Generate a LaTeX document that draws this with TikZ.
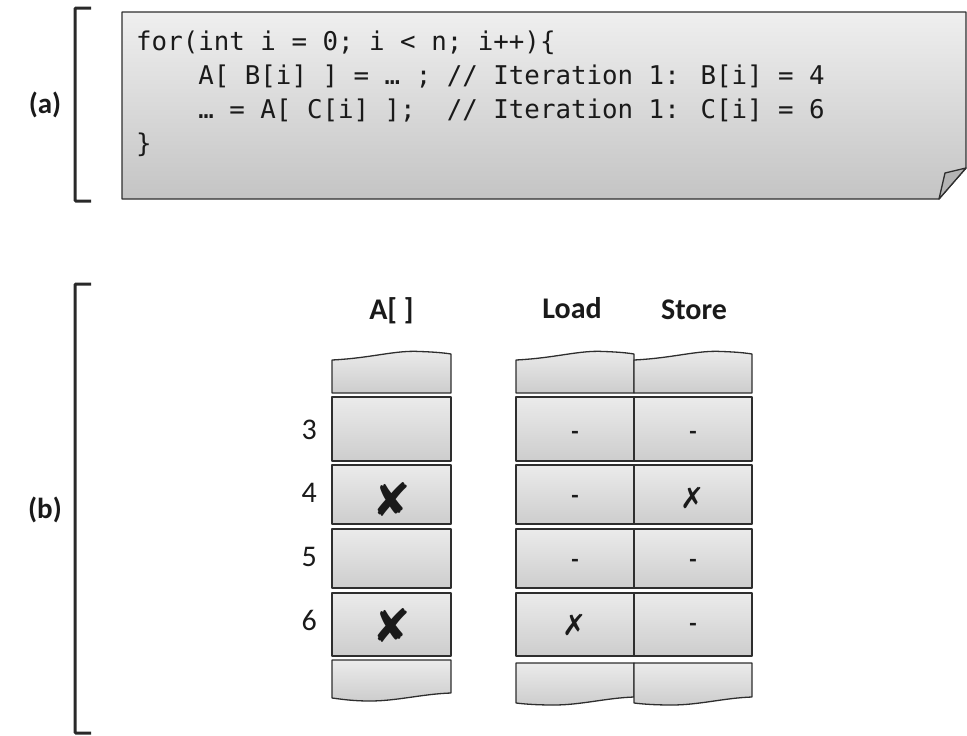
\documentclass[tikz,border=0pt]{standalone}
\usepackage{fontspec}
\newfontfamily\codefont{DejaVu Sans Mono}
\newfontfamily\labfont{Carlito}
\newfontfamily\symfont{DejaVu Sans}
\definecolor{inkc}{HTML}{2E2E2E}
\definecolor{txtc}{HTML}{1A1A1A}
\definecolor{boxt}{HTML}{EFEFEF}
\definecolor{boxb}{HTML}{C4C4C4}
\definecolor{cellt}{HTML}{EBEBEB}
\definecolor{cellb}{HTML}{CDCDCD}
\definecolor{flapc}{HTML}{B4B4B4}
\begin{document}
\begin{tikzpicture}[x=1pt,y=-1pt,
  ink/.style={draw=inkc, line width=1.3pt, line join=round},
  cellfill/.style={ink, top color=cellt, bottom color=cellb},
  brk/.style={draw=inkc!90!black, line width=3pt, rounded corners=1pt},
  codeline/.style={anchor=base west, inner sep=0pt, text=txtc,
    font=\codefont\fontsize{25.8}{30}\selectfont},
  partlabel/.style={text=txtc, font=\labfont\bfseries\fontsize{29}{34}\selectfont},
  colhead/.style={anchor=base, inner sep=0pt, text=txtc,
    font=\labfont\bfseries\fontsize{30}{36}\selectfont},
  rownum/.style={anchor=base east, inner sep=0pt, text=txtc,
    font=\labfont\fontsize{30}{36}\selectfont},
  bigx/.style={text=txtc, inner sep=0pt, font=\symfont\fontsize{46}{48}\selectfont},
  smallx/.style={text=txtc, inner sep=0pt, font=\symfont\fontsize{29}{31}\selectfont},
  nomark/.style={text=txtc, inner sep=0pt, font=\labfont\bfseries\fontsize{24}{26}\selectfont}]

\useasboundingbox (0,0) rectangle (967,736);

% ---------- (a): source listing on a dog-eared sheet ----------
\draw[brk] (91,8) -- (75,8) -- (75,201) -- (91,201);
\node[partlabel] (la) at (45,105) {(a)};

\path[ink, top color=boxt, bottom color=boxb]
  (122,12) -- (966,12) -- (966,168) -- (939,199) -- (122,199) -- cycle;
\path[ink, fill=flapc] (939,199) -- (945,173) -- (966,168) -- cycle;

\node[codeline] (c1) at (136,50)  {for(int i = 0; i < n; i++)\{};
\node[codeline] (c2) at (136,84)  {\phantom{xxxx}A[ B[i] ] = … ; // Iteration 1: B[i] = 4};
\node[codeline] (c3) at (136,118) {\phantom{xxxx}… = A[ C[i] ];~~// Iteration 1: C[i] = 6};
\node[codeline] (c4) at (136,152) {\}};

% ---------- (b): array A and the load/store bit tables ----------
\draw[brk] (91,284) -- (75,284) -- (75,733) -- (91,733);
\node[partlabel] (lb) at (45,510) {(b)};

\node[colhead] (hA) at (391.5,319) {A[~]};
\node[colhead] (hL) at (572,318) {Load};
\node[colhead] (hS) at (694,319) {Store};

% body cells
\foreach \xl/\xr in {332/451, 516/634, 634/752} {
  \foreach \yt/\yb in {397/461, 465/524, 529/588, 593/656} {
    \path[cellfill] (\xl,\yt) rectangle (\xr,\yb);
  }
}

% torn top and bottom pieces
\begin{scope}[xshift=332pt]
  \path[cellfill] (0,393) -- (0,360) .. controls (40,358) and (63,350) .. (88,351.5)
    .. controls (103,352) and (113,353) .. (119,354) -- (119,393) -- cycle;
  \path[cellfill] (0,660) -- (119,660) -- (119,693) .. controls (90,694) and (65,701) .. (38,701)
    .. controls (20,701) and (8,699) .. (0,698) -- cycle;
\end{scope}
\foreach \xl in {516,634} {
  \begin{scope}[xshift=\xl pt]
    \path[cellfill] (0,393) -- (0,360) .. controls (40,358) and (63,350) .. (88,351.5)
      .. controls (103,352) and (112,353) .. (118,354) -- (118,393) -- cycle;
    \path[cellfill] (0,663) -- (118,663) -- (118,697) .. controls (90,698) and (65,705) .. (38,705)
      .. controls (20,705) and (8,704) .. (0,703) -- cycle;
  \end{scope}
}

% row indices
\node[rownum] (r3) at (317,439) {3};
\node[rownum] (r4) at (317,502) {4};
\node[rownum] (r5) at (317,566) {5};
\node[rownum] (r6) at (317,630) {6};

% conflicting elements of A
\node[bigx] (xa4) at (392,499) {✘};
\node[bigx] (xa6) at (392,625) {✘};

% load bits
\node[nomark] (l3) at (575,435) {-};
\node[nomark] (l4) at (575,499) {-};
\node[nomark] (l5) at (575,563) {-};
\node[smallx] (l6) at (575,625) {✗};

% store bits
\node[nomark] (s3) at (693,435) {-};
\node[smallx] (s4) at (693,498) {✗};
\node[nomark] (s5) at (693,563) {-};
\node[nomark] (s6) at (693,627) {-};
\end{tikzpicture}
\end{document}
